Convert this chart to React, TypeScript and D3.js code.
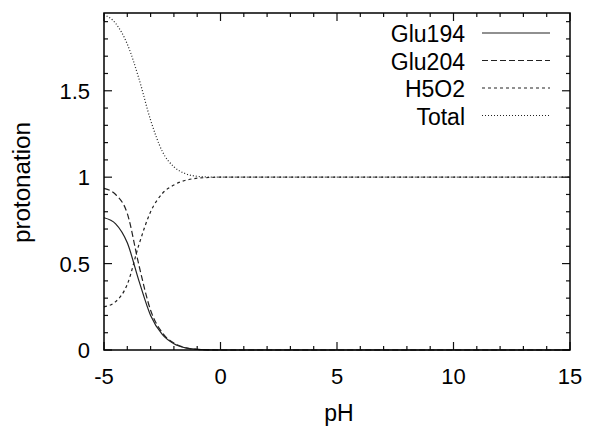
import { useRef, useEffect } from "react";
import * as d3 from "d3";

// pH grid the curves were read at
const pH = [-5, -4.5, -4, -3.5, -3, -2.5, -2, -1.5, -1, -0.5, 0, 1, 15];

const glu194 = [0.765, 0.73, 0.62, 0.4, 0.2, 0.09, 0.036, 0.012, 0.004, 0.001, 0, 0, 0];
const glu204 = [0.935, 0.9, 0.79, 0.49, 0.23, 0.1, 0.04, 0.013, 0.004, 0.001, 0, 0, 0];
const h5o2 = [0.25, 0.28, 0.38, 0.61, 0.8, 0.905, 0.955, 0.982, 0.994, 0.998, 1, 1, 1];
const total = [1.94, 1.89, 1.77, 1.57, 1.33, 1.15, 1.06, 1.02, 1.005, 1.001, 1, 1, 1];

const seriesNames = ["Glu194", "Glu204", "H5O2", "Total"];
const seriesDash = ["none", "6,3", "3,3", "1,2"];

const xTicks = [-5, 0, 5, 10, 15];
const yTicks = [0, 0.5, 1, 1.5];

const App = () => {
  const svgRef = useRef(null);
  const width = 592;
  const height = 428;
  const margin = { left: 104, right: 22, top: 13, bottom: 78 };

  useEffect(() => {
    if (!svgRef.current) return;
    const svg = d3.select(svgRef.current);
    svg.selectAll("*").remove();

    const x = d3
      .scaleLinear()
      .domain([-5, 15])
      .range([margin.left, width - margin.right]);
    const y = d3
      .scaleLinear()
      .domain([0, 1.95])
      .range([height - margin.bottom, margin.top]);

    const x0 = margin.left;
    const x1 = width - margin.right;
    const y0 = height - margin.bottom;
    const y1 = margin.top;
    const font = "'Liberation Sans', Arial, sans-serif";

    // tick marks on every side, pointing in
    const ticks = svg.append("g").attr("stroke", "#111").attr("stroke-width", 1.2);
    d3.range(-5, 15.01, 1).forEach((v) => {
      const len = v % 5 === 0 ? 8 : 4;
      ticks.append("line").attr("x1", x(v)).attr("x2", x(v)).attr("y1", y0).attr("y2", y0 - len);
      ticks.append("line").attr("x1", x(v)).attr("x2", x(v)).attr("y1", y1).attr("y2", y1 + len);
    });
    d3.range(0, 1.951, 0.1).forEach((v) => {
      const major = Math.abs(v * 2 - Math.round(v * 2)) < 1e-6;
      const len = major ? 8 : 4;
      ticks.append("line").attr("x1", x0).attr("x2", x0 + len).attr("y1", y(v)).attr("y2", y(v));
      ticks.append("line").attr("x1", x1).attr("x2", x1 - len).attr("y1", y(v)).attr("y2", y(v));
    });

    svg
      .append("g")
      .selectAll("text")
      .data(xTicks)
      .join("text")
      .attr("x", (d) => x(d))
      .attr("y", y0 + 34)
      .attr("text-anchor", "middle")
      .attr("font-family", font)
      .attr("font-size", 22)
      .text((d) => d);

    svg
      .append("g")
      .selectAll("text")
      .data(yTicks)
      .join("text")
      .attr("x", x0 - 14)
      .attr("y", (d) => y(d) + 8)
      .attr("text-anchor", "end")
      .attr("font-family", font)
      .attr("font-size", 22)
      .text((d) => d);

    svg
      .append("text")
      .attr("x", (x0 + x1) / 2 + 2)
      .attr("y", 421)
      .attr("text-anchor", "middle")
      .attr("font-family", font)
      .attr("font-size", 23)
      .text("pH");

    svg
      .append("text")
      .attr("transform", `translate(30,${(y0 + y1) / 2 + 1}) rotate(-90)`)
      .attr("text-anchor", "middle")
      .attr("font-family", font)
      .attr("font-size", 23)
      .attr("textLength", 121)
      .attr("lengthAdjust", "spacingAndGlyphs")
      .text("protonation");

    const line = d3
      .line()
      .x((d) => x(d[0]))
      .y((d) => y(d[1]))
      .curve(d3.curveMonotoneX);

    const allSeries = [glu194, glu204, h5o2, total];
    allSeries.forEach((vals, i) => {
      svg
        .append("path")
        .attr("d", line(pH.map((p, j) => [p, vals[j]])))
        .attr("fill", "none")
        .attr("stroke", "#222")
        .attr("stroke-width", 1.2)
        .attr("stroke-dasharray", seriesDash[i]);
    });

    // legend
    const legend = svg.append("g");
    seriesNames.forEach((name, i) => {
      const ly = 33 + i * 27.5;
      legend
        .append("text")
        .attr("x", 465)
        .attr("y", ly + 9)
        .attr("text-anchor", "end")
        .attr("font-family", font)
        .attr("font-size", 23)
        .text(name);
      legend
        .append("line")
        .attr("x1", 482)
        .attr("x2", 550)
        .attr("y1", ly)
        .attr("y2", ly)
        .attr("stroke", "#222")
        .attr("stroke-width", 1.2)
        .attr("stroke-dasharray", seriesDash[i]);
    });

    svg
      .append("rect")
      .attr("x", x0)
      .attr("y", y1)
      .attr("width", x1 - x0)
      .attr("height", y0 - y1)
      .attr("fill", "none")
      .attr("stroke", "#000")
      .attr("stroke-width", 1.5);
  }, []);

  return (
    <svg
      ref={svgRef}
      width={width}
      height={height}
      style={{ position: "absolute", left: 0, top: 0, background: "#fff" }}
    ></svg>
  );
};

export default App;
